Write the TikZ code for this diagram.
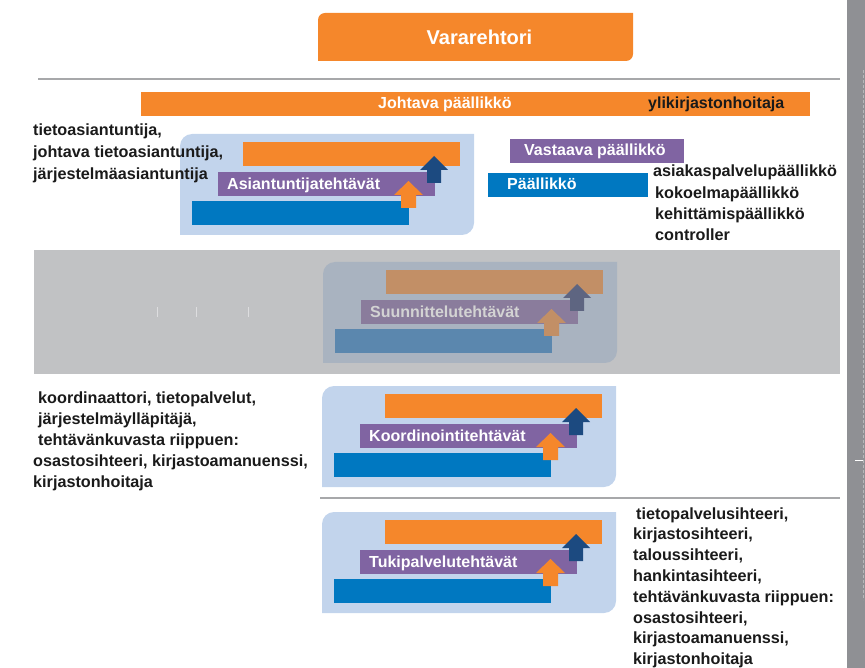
\documentclass[tikz,border=0pt]{standalone}
\usepackage{fontspec}
\setmainfont{Liberation Sans}
\usepackage{tikz}
\usetikzlibrary{calc}

\definecolor{vbg}{HTML}{C2D4EC}
\definecolor{vor}{HTML}{F5872B}
\definecolor{vpu}{HTML}{8064A2}
\definecolor{vbl}{HTML}{0078C1}
\definecolor{vdk}{HTML}{1C4A80}
\definecolor{vtx}{HTML}{FFFFFF}
\definecolor{gbg}{HTML}{A9B3C0}
\definecolor{gor}{HTML}{C28F66}
\definecolor{gpu}{HTML}{8A7C9C}
\definecolor{gbl}{HTML}{5B87AE}
\definecolor{gdk}{HTML}{5E6581}
\definecolor{gtx}{HTML}{D3D3D3}
\definecolor{bandgray}{HTML}{C1C2C4}
\definecolor{rulegray}{HTML}{A7A8AA}
\definecolor{stripgray}{HTML}{8F9094}
\definecolor{txtdark}{HTML}{1A1A1A}

\tikzset{
  bartext/.style={font=\bfseries\fontsize{16}{19}\selectfont, text=white, inner sep=0pt, anchor=base west},
  sidetext/.style={font=\bfseries\fontsize{16.2}{21.2}\selectfont, text=txtdark, inner sep=0pt, anchor=base west, align=left},
}

% #1,#2 top left corner (px), #3 node name, #4 label, #5 colour set
\newcommand{\taskpanel}[5]{%
  \begin{scope}[shift={(#1,-#2)}]
    \fill[#5bg] (0,-101) -- (0,-12) arc[start angle=180,end angle=90,radius=12pt] -- (294,0) -- (294,-89) arc[start angle=0,end angle=-90,radius=12pt] -- cycle;
    \fill[#5or] (63,-8) rectangle (280,-32);
    \fill[#5pu] (38,-38) rectangle (255,-62);
    \fill[#5bl] (12,-67) rectangle (229,-91);
    \fill[#5dk] (254,-22) -- (268,-36) -- (261,-36) -- (261,-49) -- (247,-49) -- (247,-36) -- (240,-36) -- cycle;
    \fill[#5or] (228.5,-47) -- (243,-61) -- (236,-61) -- (236,-74) -- (221,-74) -- (221,-61) -- (214,-61) -- cycle;
    \node[bartext, text=#5tx] (#3) at (47,-55.5) {#4};
  \end{scope}}

\begin{document}
\begin{tikzpicture}[x=1pt,y=1pt]
  \useasboundingbox (0,0) rectangle (865,-668);

  \fill[vor] (318,-61) -- (318,-20) arc[start angle=180,end angle=90,radius=7pt] -- (633,-13) -- (633,-54) arc[start angle=0,end angle=-90,radius=7pt] -- cycle;
  \node[font=\bfseries\fontsize{20}{24}\selectfont, text=white, inner sep=0pt, anchor=base] (vararehtori) at (479.5,-44.3) {Vararehtori};

  \draw[rulegray, line width=2pt] (38,-79) -- (840,-79);
  \draw[rulegray, line width=2pt] (320,-498) -- (840,-498);

  \fill[vor] (141,-92) rectangle (810,-116);
  \node[bartext] (johtava) at (378,-109) {Johtava päällikkö};
  \node[bartext, text=txtdark] (ylikirjastonhoitaja) at (648,-109) {ylikirjastonhoitaja};

  \fill[vpu] (510,-139) rectangle (684,-163);
  \node[bartext] (vastaava) at (524,-156) {Vastaava päällikkö};
  \fill[vbl] (488,-173) rectangle (648,-197);
  \node[bartext] (paallikko) at (507,-189.3) {Päällikkö};

  \taskpanel{180}{134}{asiantuntija}{Asiantuntijatehtävät}{v}

  % multi-line nodes sit on the baseline of their last line
  \node[sidetext, font=\bfseries\fontsize{16.2}{22}\selectfont] (asiantuntijat) at (33,-180) {tietoasiantuntija,\\johtava tietoasiantuntija,\\järjestelmäasiantuntija};
  \node[sidetext] (paalliköt) at (653,-240.6) {asiakaspalvelupäällikkö\\\hspace*{2pt}kokoelmapäällikkö\\\hspace*{2pt}kehittämispäällikkö\\\hspace*{2pt}controller};

  \fill[bandgray] (34,-250) rectangle (840,-374);
  \draw[white!45!bandgray, line width=0.6pt] (157,-307) -- (157,-317) (196,-307) -- (196,-317) (248,-307) -- (248,-317);
  \taskpanel{323}{262}{suunnittelu}{Suunnittelutehtävät}{g}

  \node[sidetext, font=\bfseries\fontsize{16.2}{21}\selectfont] (koordinaattorit) at (33,-487) {\hspace*{5pt}koordinaattori, tietopalvelut,\\\hspace*{5pt}järjestelmäylläpitäjä,\\\hspace*{5pt}tehtävänkuvasta riippuen:\\osastosihteeri, kirjastoamanuenssi,\\kirjastonhoitaja};
  \taskpanel{322}{386}{koordinointi}{Koordinointitehtävät}{v}

  \taskpanel{322}{512}{tukipalvelu}{Tukipalvelutehtävät}{v}
  \node[sidetext, font=\bfseries\fontsize{16.2}{20.8}\selectfont] (sihteerit) at (633,-664.6) {\hspace*{3pt}tietopalvelusihteeri,\\kirjastosihteeri,\\taloussihteeri,\\hankintasihteeri,\\tehtävänkuvasta riippuen:\\osastosihteeri,\\kirjastoamanuenssi,\\kirjastonhoitaja};

  \fill[stripgray] (847,0) rectangle (865,-668);
  \draw[white!35!stripgray, line width=0.8pt, dash pattern=on 3pt off 2pt] (863,-70) -- (863,-600);
  \draw[white, line width=1pt] (855,-460) -- (863,-460);
\end{tikzpicture}
\end{document}
